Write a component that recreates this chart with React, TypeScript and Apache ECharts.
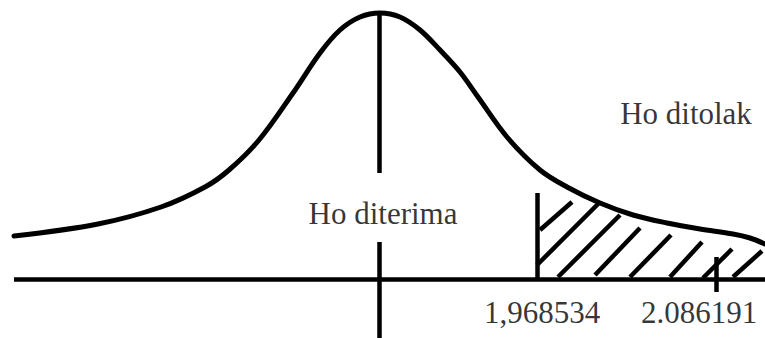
import React, { useEffect, useRef } from "react";
import * as echarts from "echarts";

// Schematic coordinates: x along the axis (0..765), h = height above the baseline
const curveX = [14, 98, 161, 205, 229, 259, 293, 320, 340, 360, 380, 400, 420, 440, 460, 478, 507, 540, 567, 600, 633, 667, 700, 733, 750, 765];
const curveH = [43, 55, 72, 92, 109, 139, 186, 226, 249, 262, 266, 262, 249, 229, 207, 182, 142, 109, 92, 76, 64, 56, 50, 45, 41, 35];

const axisStart = 14;
const axisEnd = 765;
const centerX = 379;
const centerUpper = [106, 266];
const centerLower = [-59, 37];

const criticalX = 537;
const criticalTop = 86;
const tickX = 716;
const tickRange = [-13, 22];

const hatchStart = [[540, 49], [537, 14], [558, 2], [595, 4], [630, 2], [670, 2], [703, 1], [733, 2]];
const hatchEnd = [[572, 77], [599, 76], [620, 64], [640, 51], [671, 44], [702, 37], [732, 30], [762, 28]];

const labelTexts = ["Ho ditolak", "Ho diterima", "1,968534", "2.086191"];
const labelX = [686, 383, 542, 699];
const labelH = [166, 66, -33, -33];

export default function App() {
  const ref = useRef<HTMLDivElement>(null);
  useEffect(() => {
    document.body.style.margin = "0";
    const chart = echarts.init(ref.current!, null, { renderer: "svg" });
    const black = "#000";
    const seg = (a: number[], b: number[]) => ({ coords: [a, b] });
    const lineData = [
      seg([axisStart, 0], [axisEnd, 0]),
      seg([centerX, centerUpper[0]], [centerX, centerUpper[1]]),
      seg([centerX, centerLower[0]], [centerX, centerLower[1]]),
      seg([criticalX, 0], [criticalX, criticalTop]),
      seg([tickX, tickRange[0]], [tickX, tickRange[1]]),
    ];
    const hatchData = hatchStart.map((s, i) => seg(s, hatchEnd[i]));
    chart.setOption({
      animation: false,
      grid: { left: 0, right: 0, top: 0, bottom: 0 },
      xAxis: { type: "value", min: 0, max: 765, show: false },
      yAxis: { type: "value", min: -59, max: 279, show: false },
      series: [
        {
          type: "line",
          data: curveX.map((x, i) => [x, curveH[i]]),
          smooth: 0.35,
          symbol: "none",
          lineStyle: { color: black, width: 5, cap: "round" },
        },
        {
          type: "lines",
          coordinateSystem: "cartesian2d",
          data: lineData,
          lineStyle: { color: black, width: 4.5, opacity: 1 },
        },
        {
          type: "lines",
          coordinateSystem: "cartesian2d",
          data: hatchData,
          lineStyle: { color: black, width: 4.5, opacity: 1 },
        },
        {
          type: "scatter",
          symbolSize: 0,
          data: labelTexts.map((t, i) => ({ value: [labelX[i], labelH[i]], name: t })),
          label: {
            show: true,
            position: "inside",
            formatter: (p: any) => p.name,
            fontFamily: "Liberation Serif",
            fontSize: 31,
            color: black,
          },
        },
      ],
    });
    return () => chart.dispose();
  }, []);
  return <div ref={ref} style={{ width: 765, height: 338 }} />;
}
